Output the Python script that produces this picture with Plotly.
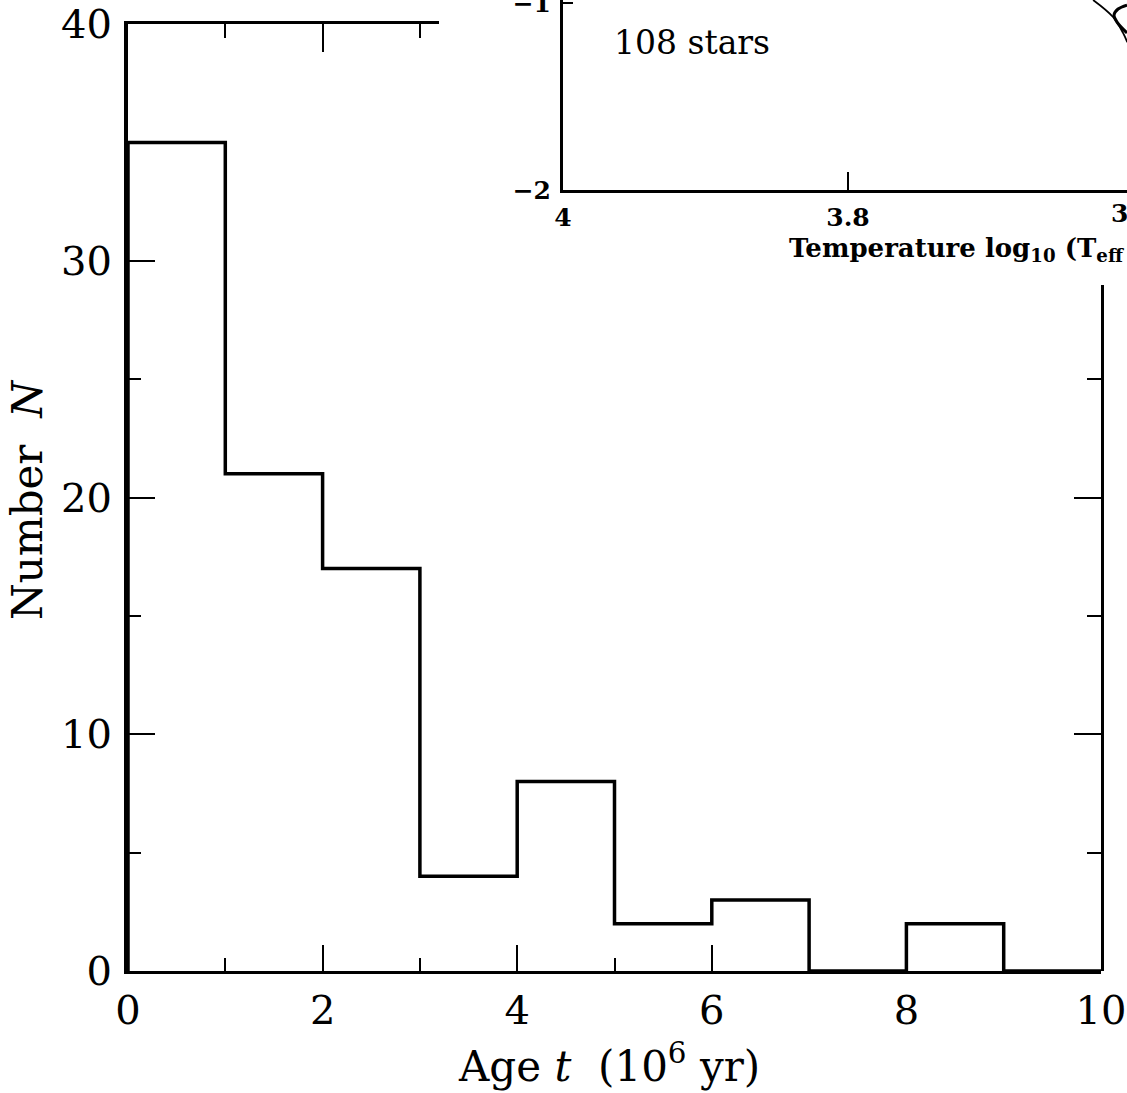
import plotly.graph_objects as go

# ---- data ----
bin_edges = [0, 1, 2, 3, 4, 5, 6, 7, 8, 9, 10]
counts = [35, 21, 17, 4, 8, 2, 3, 0, 2, 0]
x_ticks = [0, 2, 4, 6, 8, 10]
y_ticks = [0, 10, 20, 30, 40]

# inset (HR diagram fragment)
inset_x_ticks = [4, 3.8]
inset_x_labels = ["4", "3.8"]
inset_y_ticks = [-2, -1]
track1_logT = [3.628, 3.614, 3.607, 3.604]
track1_logL = [-0.984, -1.075, -1.16, -1.21]
track2_logT = [3.6042, 3.6105, 3.6133, 3.6112, 3.6042]
track2_logL = [-1.011, -1.032, -1.064, -1.102, -1.160]
n_stars_text = "108 stars"

W, H = 1127, 1093
def px(x):
    return x / W
def py(y):
    return 1 - y / H

FONT = "DejaVu Serif"

# step outline of the histogram
step_x = [bin_edges[0]] + bin_edges
step_y = [0] + counts + [counts[-1]]

fig = go.Figure()
fig.add_trace(go.Scatter(x=step_x, y=step_y, mode="lines", line_shape="hv",
                         line=dict(color="black", width=3.5),
                         xaxis="x", yaxis="y", showlegend=False, hoverinfo="skip"))
# helper empty traces for the partial top / right frame axes
fig.add_trace(go.Scatter(x=[None], y=[None], xaxis="x3", yaxis="y", showlegend=False))
fig.add_trace(go.Scatter(x=[None], y=[None], xaxis="x", yaxis="y3", showlegend=False))
# inset tracks
fig.add_trace(go.Scatter(x=track1_logT, y=track1_logL, mode="lines",
                         line=dict(color="black", width=1.8), line_shape="spline",
                         xaxis="x2", yaxis="y2", showlegend=False, hoverinfo="skip"))
fig.add_trace(go.Scatter(x=track2_logT, y=track2_logL, mode="lines",
                         line=dict(color="black", width=3), line_shape="spline",
                         xaxis="x2", yaxis="y2", showlegend=False, hoverinfo="skip"))

x0p, x1p = 128, 1101
ytop, ybot = 24, 971
dom_x = [px(x0p), px(x1p)]
dom_y = [py(ybot), py(ytop)]
xscale = (x1p - x0p) / 10.0
yscale = (ybot - ytop) / 40.0
inset_x0 = 563
inset_xscale = 1425.0

tickfont = dict(family=FONT, size=40, color="black")
insetfont = dict(family=FONT, size=25, color="black")

fig.update_layout(
    width=W, height=H, autosize=False,
    margin=dict(l=0, r=0, t=0, b=0, autoexpand=False),
    paper_bgcolor="white", plot_bgcolor="rgba(0,0,0,0)",
    showlegend=False,
    xaxis=dict(domain=dom_x, range=[0, 10], anchor="y",
               showline=True, linecolor="black", linewidth=2.5,
               ticks="inside", tickvals=x_ticks, ticklen=26, tickwidth=2, tickcolor="black",
               minor=dict(tickvals=[1, 3, 5, 7, 9], ticklen=13, tickwidth=2, tickcolor="black", ticks="inside"),
               showgrid=False, zeroline=False, tickfont=tickfont, ticklabelstandoff=2,
               ticklabeloverflow="allow"),
    yaxis=dict(domain=dom_y, range=[0, 40], anchor="x",
               showline=True, linecolor="black", linewidth=4,
               ticks="inside", tickvals=y_ticks, ticklen=27, tickwidth=2, tickcolor="black",
               minor=dict(tickvals=[5, 15, 25, 35], ticklen=13, tickwidth=2, tickcolor="black", ticks="inside"),
               showgrid=False, zeroline=False, tickfont=tickfont, ticklabelstandoff=4,
               ticklabeloverflow="allow"),
    xaxis3=dict(domain=[px(x0p), px(x0p + 3.2 * xscale)], range=[0, 3.2], anchor="y",
                side="top", showline=True, linecolor="black", linewidth=2.5,
                ticks="inside", tickvals=[2], ticklen=28, tickwidth=2, tickcolor="black",
                minor=dict(tickvals=[1, 3], ticklen=14, tickwidth=2, tickcolor="black", ticks="inside"),
                showticklabels=False, showgrid=False, zeroline=False),
    yaxis3=dict(domain=[py(ybot), py(285)], range=[0, (ybot - 285) / yscale], anchor="x",
                side="right", showline=True, linecolor="black", linewidth=3,
                ticks="inside", tickvals=[10, 20], ticklen=27, tickwidth=2, tickcolor="black",
                minor=dict(tickvals=[5, 15, 25], ticklen=14, tickwidth=2, tickcolor="black", ticks="inside"),
                showticklabels=False, showgrid=False, zeroline=False),
    xaxis2=dict(domain=[px(inset_x0), 1.0], range=[4, 4 - (W - inset_x0) / inset_xscale], anchor="y2",
                showline=True, linecolor="black", linewidth=2.5,
                ticks="inside", tickvals=inset_x_ticks, ticktext=["<b>%s</b>" % t for t in inset_x_labels],
                ticklen=18, tickwidth=2, tickcolor="black",
                showgrid=False, zeroline=False,
                tickfont=insetfont, ticklabelstandoff=3, ticklabeloverflow="allow"),
    yaxis2=dict(domain=[py(190), 1.0], range=[-2, -1 + 3 / 187.0], anchor="x2",
                showline=True, linecolor="black", linewidth=3,
                ticks="inside", tickvals=inset_y_ticks, ticktext=["<b>\u22122</b>", "<b>\u22121</b>"],
                ticklen=10, tickwidth=2, tickcolor="black",
                showgrid=False, zeroline=False,
                tickfont=insetfont, ticklabelstandoff=4, ticklabeloverflow="allow"),
)

fig.add_annotation(x=px(609), y=py(1063), xref="paper", yref="paper",
                   text="Age <i>t</i>  (10<sup>6</sup> yr)", showarrow=False,
                   font=dict(family=FONT, size=42, color="black"), xanchor="center", yanchor="middle")
fig.add_annotation(x=px(28), y=py(500), xref="paper", yref="paper",
                   text="Number  <i>N</i>", showarrow=False, textangle=-90,
                   font=dict(family=FONT, size=42, color="black"), xanchor="center", yanchor="middle")
fig.add_annotation(x=px(612), y=py(43), xref="paper", yref="paper",
                   text=n_stars_text, showarrow=False,
                   font=dict(family=FONT, size=33, color="black"), xanchor="left", yanchor="middle")
fig.add_annotation(x=px(787), y=py(250), xref="paper", yref="paper",
                   text="<b>Temperature log<sub>10</sub> (T<sub>eff</sub> / K)</b>", showarrow=False,
                   font=dict(family=FONT, size=26, color="black"), xanchor="left", yanchor="middle")
# partially visible tick label of the inset x axis (value 3.6 lies just past the page edge)
fig.add_annotation(x=px(inset_x0 + (4 - 3.6) * inset_xscale), y=py(214), xref="paper", yref="paper",
                   text="<b>3.6</b>", showarrow=False,
                   font=insetfont, xanchor="center", yanchor="middle")

fig.write_html("out.html")
